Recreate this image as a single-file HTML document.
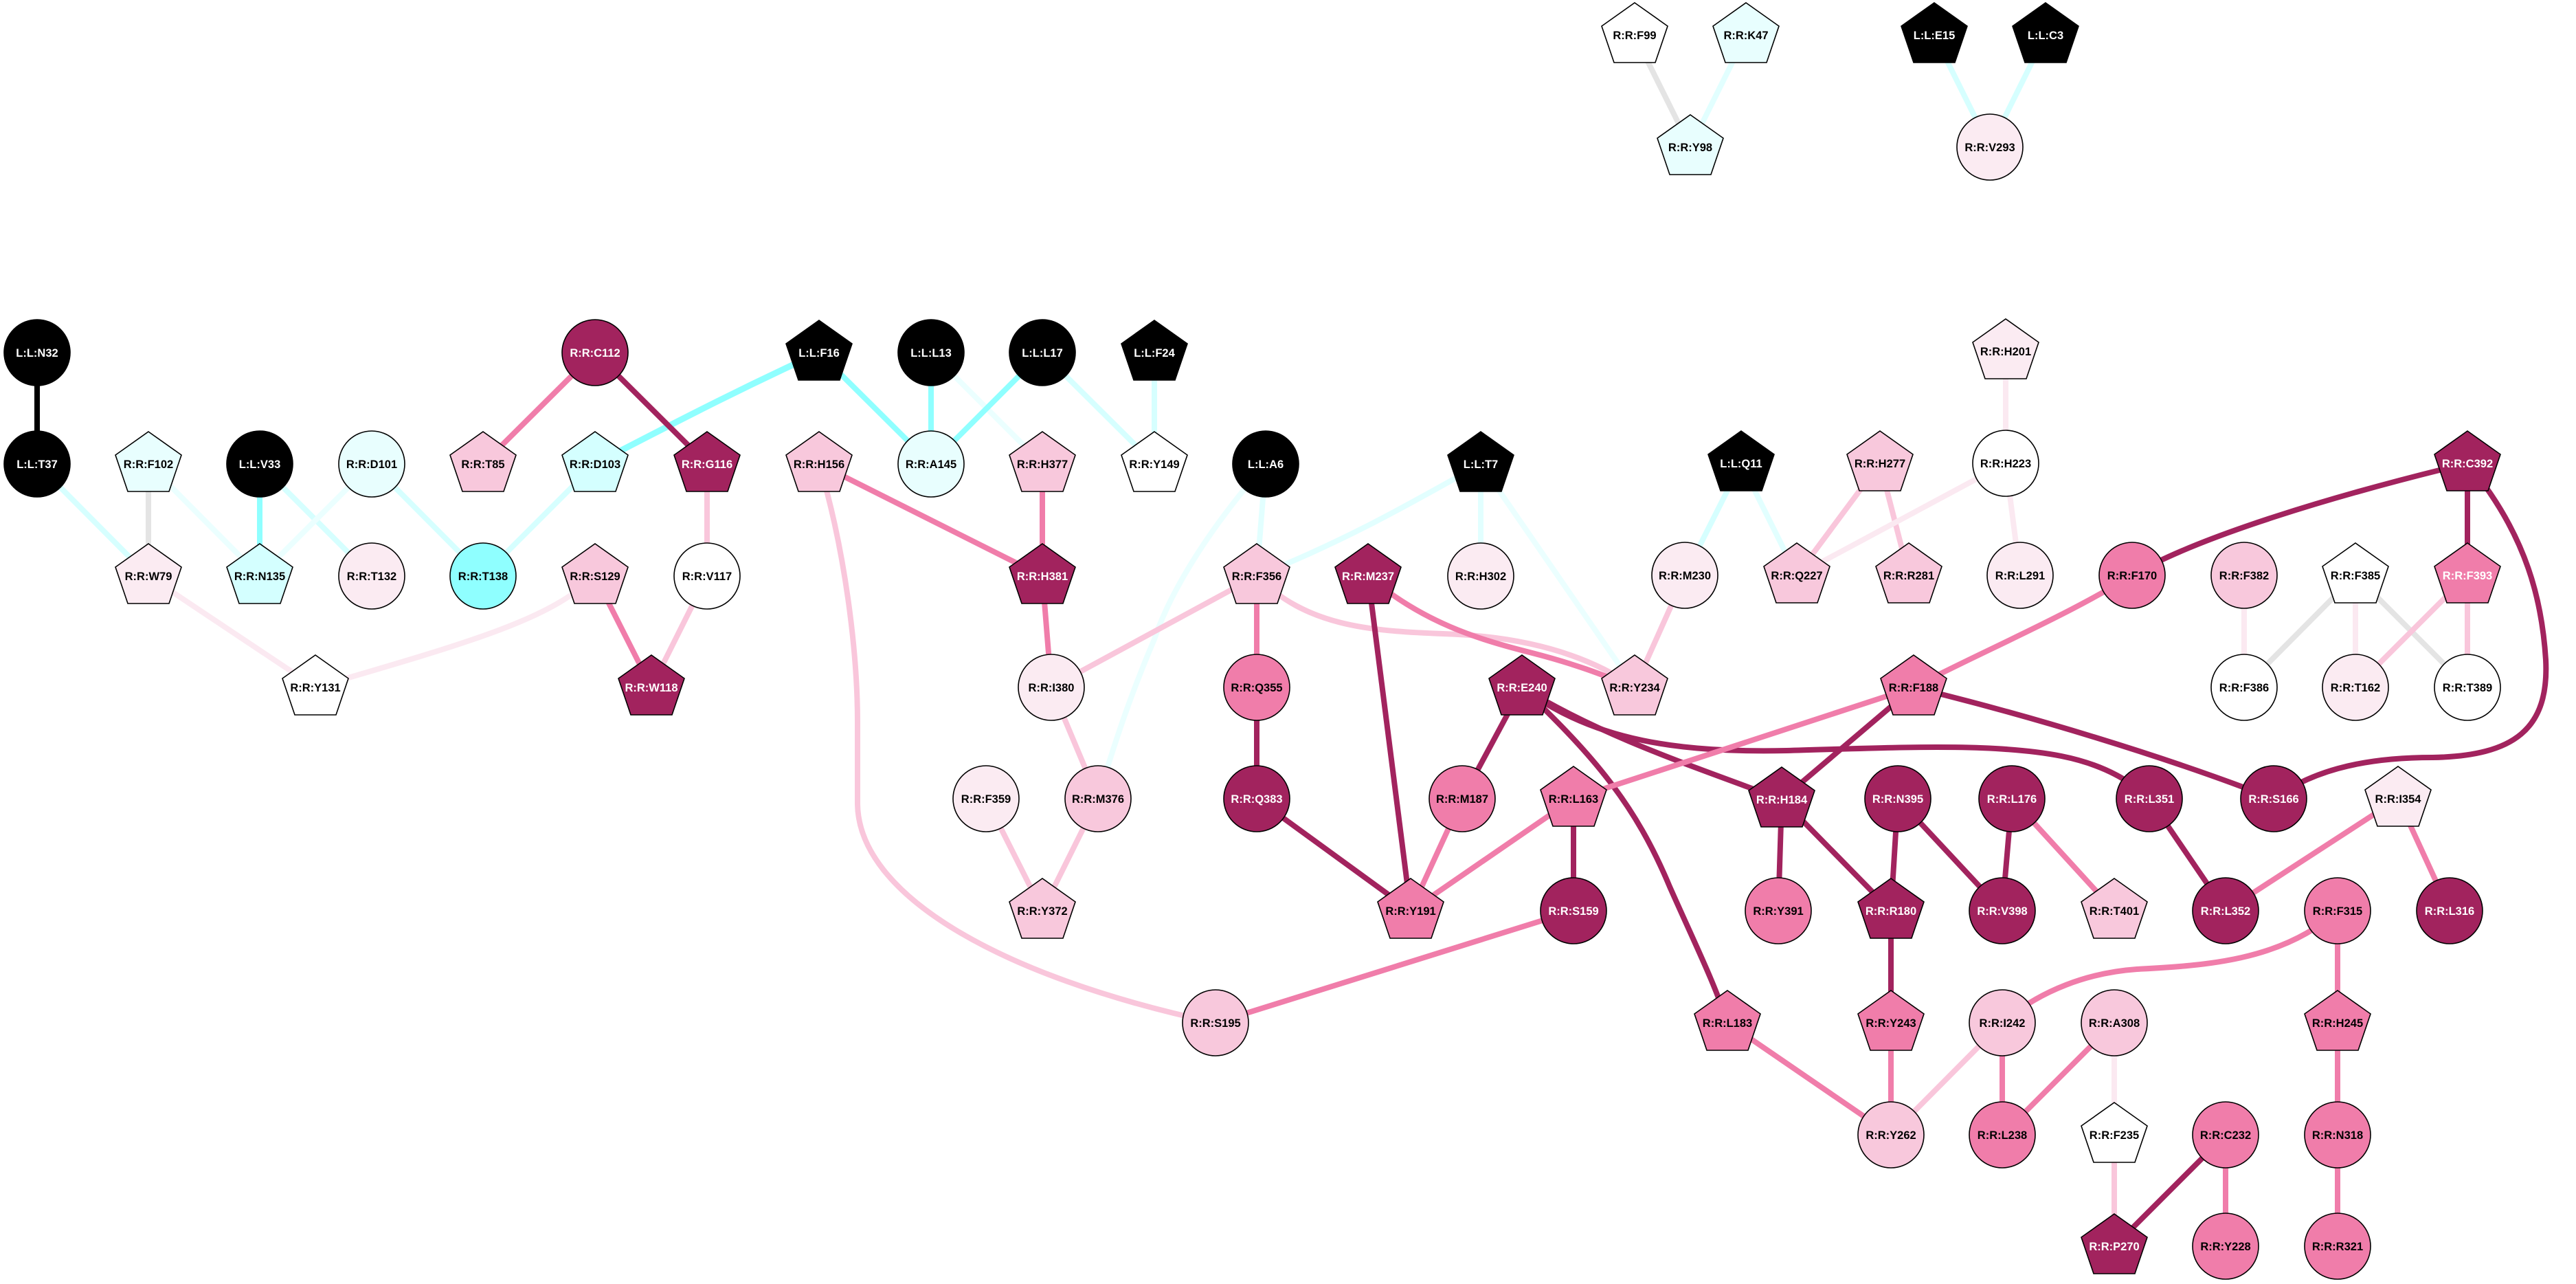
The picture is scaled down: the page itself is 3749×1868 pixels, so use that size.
<!DOCTYPE html>
<html><head><meta charset="utf-8"><style>
html,body{margin:0;padding:0;background:#fff;}
svg{display:block;}
text{font-family:"Liberation Sans",sans-serif;font-weight:bold;font-size:16.5px;text-anchor:middle;fill:#000;stroke:none;}
text.w{fill:#fff;}
.n use,.n circle{stroke:#000;stroke-width:1.6;}
path,line{fill:none;}
</style></head><body>
<svg width="3749" height="1868" viewBox="0 0 3749 1868" xmlns="http://www.w3.org/2000/svg">
<defs>
<polygon id="p" points="0,-47 48,-13 30,40 -30,40 -48,-13"/>
</defs>
<g stroke-width="8" stroke-linecap="butt">
<line x1="2379" y1="51" x2="2460" y2="214" stroke="#e4e4e4"/>
<line x1="2541" y1="51" x2="2460" y2="214" stroke="#e2ffff"/>
<line x1="2815" y1="51" x2="2896" y2="214" stroke="#d6ffff"/>
<line x1="2977" y1="51" x2="2896" y2="214" stroke="#d6ffff"/>
<line x1="54" y1="513" x2="54" y2="675" stroke="#000"/>
<line x1="54" y1="675" x2="216" y2="838" stroke="#d6ffff"/>
<line x1="216" y1="675" x2="216" y2="838" stroke="#e4e4e4"/>
<line x1="216" y1="675" x2="378" y2="838" stroke="#ebffff"/>
<line x1="378" y1="675" x2="378" y2="838" stroke="#8fffff"/>
<line x1="378" y1="675" x2="541" y2="838" stroke="#d6ffff"/>
<line x1="541" y1="675" x2="378" y2="838" stroke="#ebffff"/>
<line x1="541" y1="675" x2="703" y2="838" stroke="#d6ffff"/>
<line x1="866" y1="675" x2="703" y2="838" stroke="#d6ffff"/>
<path d="M1192,513 C1090,560 1010,600 866,675" stroke="#8fffff" stroke-width="9"/>
<line x1="866" y1="513" x2="703" y2="675" stroke="#f07daa"/>
<line x1="866" y1="513" x2="1029" y2="675" stroke="#a2235e"/>
<line x1="1029" y1="675" x2="1029" y2="838" stroke="#f9c6db"/>
<line x1="1029" y1="838" x2="948" y2="1000" stroke="#f9c6db"/>
<line x1="866" y1="838" x2="948" y2="1000" stroke="#f07daa"/>
<path d="M866,838 C800,900 700,930 459,1000" stroke="#fbe9f1"/>
<line x1="216" y1="838" x2="459" y2="1000" stroke="#fbe9f1"/>
<line x1="1192" y1="513" x2="1355" y2="675" stroke="#8fffff"/>
<line x1="1355" y1="513" x2="1355" y2="675" stroke="#8fffff"/>
<line x1="1355" y1="513" x2="1517" y2="675" stroke="#ebffff"/>
<line x1="1517" y1="513" x2="1355" y2="675" stroke="#8fffff"/>
<line x1="1517" y1="513" x2="1680" y2="675" stroke="#d6ffff"/>
<line x1="1680" y1="513" x2="1680" y2="675" stroke="#d6ffff"/>
<line x1="1192" y1="675" x2="1517" y2="838" stroke="#f07daa"/>
<path d="M1192,675 C1230,800 1248,950 1248,1050 L1248,1170 C1250,1300 1450,1420 1769,1488" stroke="#f9c6db"/>
<line x1="1517" y1="675" x2="1517" y2="838" stroke="#f07daa"/>
<line x1="1517" y1="838" x2="1530" y2="1000" stroke="#f07daa"/>
<line x1="1842" y1="675" x2="1829" y2="838" stroke="#e2ffff"/>
<path d="M1842,675 C1750,780 1700,870 1680,930 C1650,1000 1625,1070 1598,1162" stroke="#ebffff"/>
<path d="M2155,675 C2040,740 1950,790 1829,838" stroke="#e2ffff"/>
<line x1="2155" y1="675" x2="2155" y2="838" stroke="#e2ffff"/>
<line x1="2155" y1="675" x2="2379" y2="1000" stroke="#ebffff"/>
<line x1="1829" y1="838" x2="1530" y2="1000" stroke="#f9c6db"/>
<line x1="1829" y1="838" x2="1829" y2="1000" stroke="#f07daa"/>
<path d="M1829,838 C1900,910 1990,918 2100,922 C2200,925 2300,945 2379,1000" stroke="#f9c6db"/>
<path d="M1991,838 C2070,905 2150,930 2230,950 C2300,968 2340,985 2379,1000" stroke="#f07daa"/>
<line x1="1991" y1="838" x2="2053" y2="1325" stroke="#a2235e"/>
<line x1="1530" y1="1000" x2="1598" y2="1162" stroke="#f9c6db"/>
<line x1="1435" y1="1162" x2="1517" y2="1325" stroke="#f9c6db"/>
<line x1="1598" y1="1162" x2="1517" y2="1325" stroke="#f9c6db"/>
<line x1="1829" y1="1000" x2="1829" y2="1162" stroke="#a2235e"/>
<line x1="1829" y1="1162" x2="2053" y2="1325" stroke="#a2235e"/>
<line x1="2128" y1="1162" x2="2053" y2="1325" stroke="#f07daa"/>
<line x1="2290" y1="1162" x2="2053" y2="1325" stroke="#f07daa"/>
<line x1="2215" y1="1000" x2="2128" y2="1162" stroke="#a2235e"/>
<path d="M2215,1000 C2320,1100 2380,1170 2430,1290 C2470,1380 2495,1430 2514,1488" stroke="#a2235e"/>
<path d="M2215,1000 C2330,1070 2450,1110 2593,1163" stroke="#a2235e"/>
<path d="M2215,1000 C2320,1080 2450,1095 2600,1092 C2750,1088 2900,1080 3000,1100 C3060,1112 3100,1135 3128,1162" stroke="#a2235e"/>
<line x1="2290" y1="1162" x2="2290" y2="1325" stroke="#a2235e"/>
<line x1="2290" y1="1325" x2="1769" y2="1488" stroke="#f07daa"/>
<line x1="2290" y1="1162" x2="2785" y2="1000" stroke="#f07daa"/>
<line x1="2785" y1="1000" x2="2593" y2="1163" stroke="#a2235e"/>
<path d="M2785,1000 C2950,1040 3150,1100 3309,1162" stroke="#a2235e"/>
<path d="M3103,837 C3000,900 2880,950 2785,1000" stroke="#f07daa"/>
<path d="M3591,674 C3400,720 3200,780 3103,837" stroke="#a2235e"/>
<line x1="3591" y1="674" x2="3591" y2="837" stroke="#a2235e"/>
<path d="M3591,674 C3680,780 3700,880 3705,960 C3710,1060 3660,1100 3540,1102 C3430,1102 3360,1125 3309,1162" stroke="#a2235e"/>
<line x1="2593" y1="1163" x2="2588" y2="1325" stroke="#a2235e"/>
<line x1="2593" y1="1163" x2="2752" y2="1325" stroke="#a2235e"/>
<line x1="2762" y1="1162" x2="2752" y2="1325" stroke="#a2235e"/>
<line x1="2762" y1="1162" x2="2914" y2="1325" stroke="#a2235e"/>
<line x1="2928" y1="1162" x2="2914" y2="1325" stroke="#a2235e"/>
<line x1="2928" y1="1162" x2="3077" y2="1325" stroke="#f07daa"/>
<line x1="3128" y1="1162" x2="3239" y2="1325" stroke="#a2235e"/>
<line x1="3490" y1="1162" x2="3239" y2="1325" stroke="#f07daa"/>
<line x1="3490" y1="1162" x2="3565" y2="1325" stroke="#f07daa"/>
<line x1="2752" y1="1325" x2="2752" y2="1488" stroke="#a2235e"/>
<line x1="2752" y1="1488" x2="2752" y2="1651" stroke="#f07daa"/>
<line x1="2514" y1="1488" x2="2752" y2="1651" stroke="#f07daa"/>
<line x1="2914" y1="1488" x2="2752" y2="1651" stroke="#f9c6db"/>
<line x1="2914" y1="1488" x2="2914" y2="1651" stroke="#f07daa"/>
<line x1="3077" y1="1488" x2="2914" y2="1651" stroke="#f07daa"/>
<line x1="3077" y1="1488" x2="3077" y2="1651" stroke="#fbe9f1"/>
<line x1="3077" y1="1651" x2="3077" y2="1813" stroke="#f9c6db"/>
<line x1="3239" y1="1651" x2="3077" y2="1813" stroke="#a2235e"/>
<line x1="3239" y1="1651" x2="3239" y2="1813" stroke="#f07daa"/>
<path d="M3402,1325 C3320,1400 3200,1405 3110,1410 C3040,1415 2970,1440 2914,1488" stroke="#f07daa"/>
<line x1="3402" y1="1325" x2="3402" y2="1488" stroke="#f07daa"/>
<line x1="3402" y1="1488" x2="3402" y2="1651" stroke="#f07daa"/>
<line x1="3402" y1="1651" x2="3402" y2="1813" stroke="#f07daa"/>
<line x1="2534" y1="674" x2="2452" y2="837" stroke="#d6ffff"/>
<line x1="2534" y1="674" x2="2615" y2="837" stroke="#e2ffff"/>
<line x1="2736" y1="674" x2="2615" y2="837" stroke="#f9c6db"/>
<line x1="2736" y1="674" x2="2778" y2="837" stroke="#f9c6db"/>
<line x1="2919" y1="674" x2="2615" y2="837" stroke="#fbe9f1"/>
<line x1="2919" y1="511" x2="2919" y2="674" stroke="#fbe9f1"/>
<line x1="2919" y1="674" x2="2940" y2="837" stroke="#fbe9f1"/>
<line x1="2452" y1="837" x2="2379" y2="1000" stroke="#f9c6db"/>
<line x1="3266" y1="837" x2="3266" y2="1000" stroke="#fbe9f1"/>
<line x1="3428" y1="837" x2="3266" y2="1000" stroke="#e4e4e4"/>
<line x1="3428" y1="837" x2="3428" y2="1000" stroke="#fbe9f1"/>
<line x1="3428" y1="837" x2="3591" y2="1000" stroke="#e4e4e4"/>
<line x1="3591" y1="837" x2="3428" y2="1000" stroke="#f9c6db"/>
<line x1="3591" y1="837" x2="3591" y2="1000" stroke="#f9c6db"/>
</g>
<g class="n">
<use href="#p" x="2379" y="51" fill="#fff"/><text x="2379" y="57">R:R:F99</text>
<use href="#p" x="2541" y="51" fill="#e8fefe"/><text x="2541" y="57">R:R:K47</text>
<use href="#p" x="2460" y="214" fill="#e8fefe"/><text x="2460" y="220">R:R:Y98</text>
<use href="#p" x="2815" y="51" fill="#000"/><text class="w" x="2815" y="57">L:L:E15</text>
<use href="#p" x="2977" y="51" fill="#000"/><text class="w" x="2977" y="57">L:L:C3</text>
<circle cx="2896" cy="214" r="48" fill="#fbebf2"/><text x="2896" y="220">R:R:V293</text>
<circle cx="54" cy="513" r="48" fill="#000"/><text class="w" x="54" y="519">L:L:N32</text>
<circle cx="866" cy="513" r="48" fill="#a2235e"/><text class="w" x="866" y="519">R:R:C112</text>
<use href="#p" x="1192" y="513" fill="#000"/><text class="w" x="1192" y="519">L:L:F16</text>
<circle cx="1355" cy="513" r="48" fill="#000"/><text class="w" x="1355" y="519">L:L:L13</text>
<circle cx="1517" cy="513" r="48" fill="#000"/><text class="w" x="1517" y="519">L:L:L17</text>
<use href="#p" x="1680" y="513" fill="#000"/><text class="w" x="1680" y="519">L:L:F24</text>
<use href="#p" x="2919" y="511" fill="#fbebf2"/><text x="2919" y="517">R:R:H201</text>
<circle cx="54" cy="675" r="48" fill="#000"/><text class="w" x="54" y="681">L:L:T37</text>
<use href="#p" x="216" y="675" fill="#e8fefe"/><text x="216" y="681">R:R:F102</text>
<circle cx="378" cy="675" r="48" fill="#000"/><text class="w" x="378" y="681">L:L:V33</text>
<circle cx="541" cy="675" r="48" fill="#e8fefe"/><text x="541" y="681">R:R:D101</text>
<use href="#p" x="703" y="675" fill="#f8c8dc"/><text x="703" y="681">R:R:T85</text>
<use href="#p" x="866" y="675" fill="#d4ffff"/><text x="866" y="681">R:R:D103</text>
<use href="#p" x="1029" y="675" fill="#a2235e"/><text class="w" x="1029" y="681">R:R:G116</text>
<use href="#p" x="1192" y="675" fill="#f8c8dc"/><text x="1192" y="681">R:R:H156</text>
<circle cx="1355" cy="675" r="48" fill="#e8fefe"/><text x="1355" y="681">R:R:A145</text>
<use href="#p" x="1517" y="675" fill="#f8c8dc"/><text x="1517" y="681">R:R:H377</text>
<use href="#p" x="1680" y="675" fill="#fff"/><text x="1680" y="681">R:R:Y149</text>
<circle cx="1842" cy="675" r="48" fill="#000"/><text class="w" x="1842" y="681">L:L:A6</text>
<use href="#p" x="2155" y="675" fill="#000"/><text class="w" x="2155" y="681">L:L:T7</text>
<use href="#p" x="2534" y="674" fill="#000"/><text class="w" x="2534" y="680">L:L:Q11</text>
<use href="#p" x="2736" y="674" fill="#f8c8dc"/><text x="2736" y="680">R:R:H277</text>
<circle cx="2919" cy="674" r="48" fill="#fff"/><text x="2919" y="680">R:R:H223</text>
<use href="#p" x="3591" y="674" fill="#a2235e"/><text class="w" x="3591" y="680">R:R:C392</text>
<use href="#p" x="216" y="838" fill="#fbebf2"/><text x="216" y="844">R:R:W79</text>
<use href="#p" x="378" y="838" fill="#d4ffff"/><text x="378" y="844">R:R:N135</text>
<circle cx="541" cy="838" r="48" fill="#fbebf2"/><text x="541" y="844">R:R:T132</text>
<circle cx="703" cy="838" r="48" fill="#8fffff"/><text x="703" y="844">R:R:T138</text>
<use href="#p" x="866" y="838" fill="#f8c8dc"/><text x="866" y="844">R:R:S129</text>
<circle cx="1029" cy="838" r="48" fill="#fff"/><text x="1029" y="844">R:R:V117</text>
<use href="#p" x="1517" y="838" fill="#a2235e"/><text class="w" x="1517" y="844">R:R:H381</text>
<use href="#p" x="1829" y="838" fill="#f8c8dc"/><text x="1829" y="844">R:R:F356</text>
<use href="#p" x="1991" y="838" fill="#a2235e"/><text class="w" x="1991" y="844">R:R:M237</text>
<circle cx="2155" cy="838" r="48" fill="#fbebf2"/><text x="2155" y="844">R:R:H302</text>
<circle cx="2452" cy="837" r="48" fill="#fbebf2"/><text x="2452" y="843">R:R:M230</text>
<use href="#p" x="2615" y="837" fill="#f8c8dc"/><text x="2615" y="843">R:R:Q227</text>
<use href="#p" x="2778" y="837" fill="#f8c8dc"/><text x="2778" y="843">R:R:R281</text>
<circle cx="2940" cy="837" r="48" fill="#fbebf2"/><text x="2940" y="843">R:R:L291</text>
<circle cx="3103" cy="837" r="48" fill="#f07daa"/><text x="3103" y="843">R:R:F170</text>
<circle cx="3266" cy="837" r="48" fill="#f8c8dc"/><text x="3266" y="843">R:R:F382</text>
<use href="#p" x="3428" y="837" fill="#fff"/><text x="3428" y="843">R:R:F385</text>
<use href="#p" x="3591" y="837" fill="#f07daa"/><text class="w" x="3591" y="843">R:R:F393</text>
<use href="#p" x="459" y="1000" fill="#fff"/><text x="459" y="1006">R:R:Y131</text>
<use href="#p" x="948" y="1000" fill="#a2235e"/><text class="w" x="948" y="1006">R:R:W118</text>
<circle cx="1530" cy="1000" r="48" fill="#fbebf2"/><text x="1530" y="1006">R:R:I380</text>
<circle cx="1829" cy="1000" r="48" fill="#f07daa"/><text x="1829" y="1006">R:R:Q355</text>
<use href="#p" x="2215" y="1000" fill="#a2235e"/><text class="w" x="2215" y="1006">R:R:E240</text>
<use href="#p" x="2379" y="1000" fill="#f8c8dc"/><text x="2379" y="1006">R:R:Y234</text>
<use href="#p" x="2785" y="1000" fill="#f07daa"/><text x="2785" y="1006">R:R:F188</text>
<circle cx="3266" cy="1000" r="48" fill="#fff"/><text x="3266" y="1006">R:R:F386</text>
<circle cx="3428" cy="1000" r="48" fill="#fbebf2"/><text x="3428" y="1006">R:R:T162</text>
<circle cx="3591" cy="1000" r="48" fill="#fff"/><text x="3591" y="1006">R:R:T389</text>
<circle cx="1435" cy="1162" r="48" fill="#fbebf2"/><text x="1435" y="1168">R:R:F359</text>
<circle cx="1598" cy="1162" r="48" fill="#f8c8dc"/><text x="1598" y="1168">R:R:M376</text>
<circle cx="1829" cy="1162" r="48" fill="#a2235e"/><text class="w" x="1829" y="1168">R:R:Q383</text>
<circle cx="2128" cy="1162" r="48" fill="#f07daa"/><text x="2128" y="1168">R:R:M187</text>
<use href="#p" x="2290" y="1162" fill="#f07daa"/><text x="2290" y="1168">R:R:L163</text>
<use href="#p" x="2593" y="1163" fill="#a2235e"/><text class="w" x="2593" y="1169">R:R:H184</text>
<circle cx="2762" cy="1162" r="48" fill="#a2235e"/><text class="w" x="2762" y="1168">R:R:N395</text>
<circle cx="2928" cy="1162" r="48" fill="#a2235e"/><text class="w" x="2928" y="1168">R:R:L176</text>
<circle cx="3128" cy="1162" r="48" fill="#a2235e"/><text class="w" x="3128" y="1168">R:R:L351</text>
<circle cx="3309" cy="1162" r="48" fill="#a2235e"/><text class="w" x="3309" y="1168">R:R:S166</text>
<use href="#p" x="3490" y="1162" fill="#fbebf2"/><text x="3490" y="1168">R:R:I354</text>
<use href="#p" x="1517" y="1325" fill="#f8c8dc"/><text x="1517" y="1331">R:R:Y372</text>
<use href="#p" x="2053" y="1325" fill="#f07daa"/><text x="2053" y="1331">R:R:Y191</text>
<circle cx="2290" cy="1325" r="48" fill="#a2235e"/><text class="w" x="2290" y="1331">R:R:S159</text>
<circle cx="2588" cy="1325" r="48" fill="#f07daa"/><text x="2588" y="1331">R:R:Y391</text>
<use href="#p" x="2752" y="1325" fill="#a2235e"/><text class="w" x="2752" y="1331">R:R:R180</text>
<circle cx="2914" cy="1325" r="48" fill="#a2235e"/><text class="w" x="2914" y="1331">R:R:V398</text>
<use href="#p" x="3077" y="1325" fill="#f8c8dc"/><text x="3077" y="1331">R:R:T401</text>
<circle cx="3239" cy="1325" r="48" fill="#a2235e"/><text class="w" x="3239" y="1331">R:R:L352</text>
<circle cx="3402" cy="1325" r="48" fill="#f07daa"/><text x="3402" y="1331">R:R:F315</text>
<circle cx="3565" cy="1325" r="48" fill="#a2235e"/><text class="w" x="3565" y="1331">R:R:L316</text>
<circle cx="1769" cy="1488" r="48" fill="#f8c8dc"/><text x="1769" y="1494">R:R:S195</text>
<use href="#p" x="2514" y="1488" fill="#f07daa"/><text x="2514" y="1494">R:R:L183</text>
<use href="#p" x="2752" y="1488" fill="#f07daa"/><text x="2752" y="1494">R:R:Y243</text>
<circle cx="2914" cy="1488" r="48" fill="#f8c8dc"/><text x="2914" y="1494">R:R:I242</text>
<circle cx="3077" cy="1488" r="48" fill="#f8c8dc"/><text x="3077" y="1494">R:R:A308</text>
<use href="#p" x="3402" y="1488" fill="#f07daa"/><text x="3402" y="1494">R:R:H245</text>
<circle cx="2752" cy="1651" r="48" fill="#f8c8dc"/><text x="2752" y="1657">R:R:Y262</text>
<circle cx="2914" cy="1651" r="48" fill="#f07daa"/><text x="2914" y="1657">R:R:L238</text>
<use href="#p" x="3077" y="1651" fill="#fff"/><text x="3077" y="1657">R:R:F235</text>
<circle cx="3239" cy="1651" r="48" fill="#f07daa"/><text x="3239" y="1657">R:R:C232</text>
<circle cx="3402" cy="1651" r="48" fill="#f07daa"/><text x="3402" y="1657">R:R:N318</text>
<use href="#p" x="3077" y="1813" fill="#a2235e"/><text class="w" x="3077" y="1819">R:R:P270</text>
<circle cx="3239" cy="1813" r="48" fill="#f07daa"/><text x="3239" y="1819">R:R:Y228</text>
<circle cx="3402" cy="1813" r="48" fill="#f07daa"/><text x="3402" y="1819">R:R:R321</text>
</g>
</svg>
</body></html>
